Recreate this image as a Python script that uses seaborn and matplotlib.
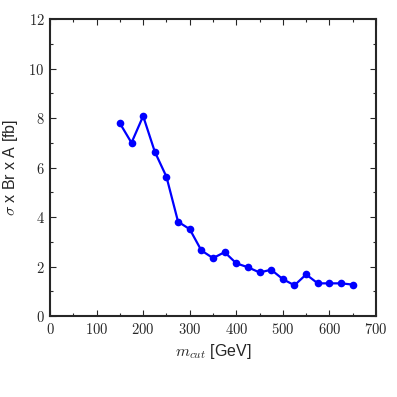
import seaborn as sns
import matplotlib
matplotlib.use("Agg")
import matplotlib.pyplot as plt
from matplotlib.ticker import MultipleLocator, FuncFormatter

# Data
m_cut = [150, 175, 200, 225, 250, 275, 300, 325, 350, 375, 400,
         425, 450, 475, 500, 525, 550, 575, 600, 625, 650]
sigma_br_a = [7.79, 7.0, 8.08, 6.64, 5.63, 3.81, 3.51, 2.65, 2.34, 2.58, 2.13,
              1.97, 1.76, 1.87, 1.49, 1.24, 1.68, 1.32, 1.32, 1.32, 1.27]

sns.set_style("ticks")
plt.rcParams['font.family'] = ['Liberation Sans', 'DejaVu Sans']
plt.rcParams['mathtext.fontset'] = 'cm'

fig = plt.figure(figsize=(3.97, 3.97), dpi=100)
ax = fig.add_axes([0.126, 0.204, 0.821, 0.748])

sns.lineplot(x=m_cut, y=sigma_br_a, ax=ax, color='#0000ff', marker='o',
             markersize=5.5, markeredgewidth=0, linewidth=1.6)

ax.set_xlim(0, 700)
ax.set_ylim(0, 12)
ax.xaxis.set_major_locator(MultipleLocator(100))
ax.xaxis.set_minor_locator(MultipleLocator(50))
ax.yaxis.set_major_locator(MultipleLocator(2))
ax.yaxis.set_minor_locator(MultipleLocator(1))
fmt = FuncFormatter(lambda v, p: r'$%d$' % v)
ax.xaxis.set_major_formatter(fmt)
ax.yaxis.set_major_formatter(fmt)
ax.tick_params(which='both', direction='in', top=True, right=True,
               width=0.8, labelsize=10.5)
ax.tick_params(which='major', length=4.5, pad=4)
ax.tick_params(which='minor', length=2.5)
for s in ax.spines.values():
    s.set_linewidth(1.5)

ax.set_xlabel(r'$m_{cut}$ [GeV]', fontsize=11.5, labelpad=4)
ax.set_ylabel(r'$\sigma$ x Br x A [fb]', fontsize=11.5, labelpad=6)

plt.savefig('out.png', dpi=100)
